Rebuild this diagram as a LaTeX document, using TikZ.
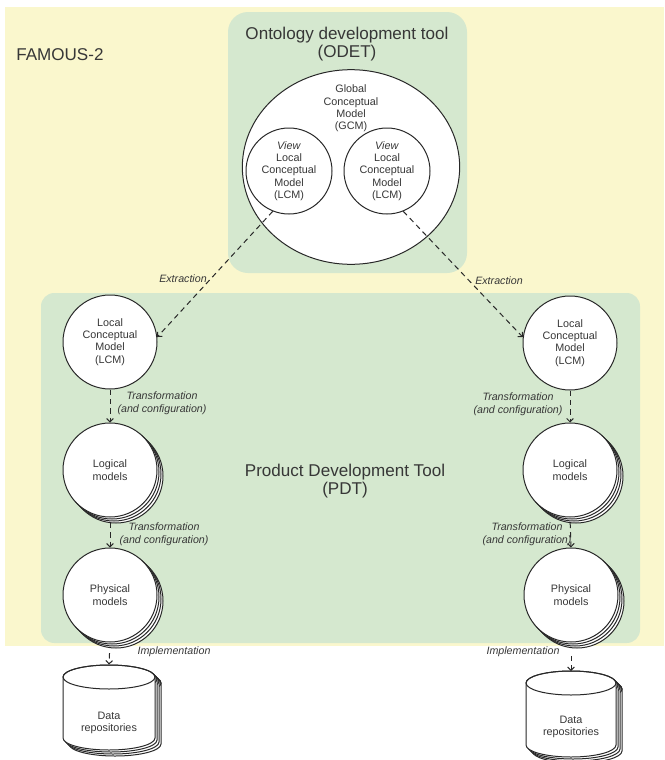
\documentclass[tikz,border=0pt]{standalone}
\usepackage{fontspec}
\setmainfont{Liberation Sans}
\usetikzlibrary{shapes.geometric,shadows,arrows.meta}

\definecolor{famousbg}{RGB}{250,247,205}
\definecolor{toolbg}{RGB}{213,232,207}
\definecolor{ink}{RGB}{40,40,40}
\definecolor{txt}{RGB}{55,55,55}

\tikzset{
  modelcircle/.style={circle, draw=ink, fill=white, line width=0.75pt,
    minimum size=70.5pt, inner sep=0pt, align=center, text=txt,
    font=\fontsize{8.1}{9.2}\selectfont},
  stacked/.style={
    copy shadow={shadow xshift=4.5pt, shadow yshift=-4.5pt, draw=ink, fill=white},
    copy shadow={shadow xshift=3pt, shadow yshift=-3pt, draw=ink, fill=white},
    copy shadow={shadow xshift=1.5pt, shadow yshift=-1.5pt, draw=ink, fill=white}},
  repoframe/.style={inner sep=0pt, minimum width=69pt, minimum height=64pt},
  repoline/.style={draw=ink, fill=white, line width=0.75pt},
  smalltext/.style={text=txt, align=center, inner sep=0pt,
    font=\fontsize{8.1}{9.2}\selectfont},
  flowlabel/.style={text=txt, align=center, inner sep=0pt,
    font=\fontsize{8}{9.5}\selectfont\itshape},
  titletext/.style={text=txt, align=center, inner sep=0pt,
    font=\fontsize{12.8}{13.5}\selectfont},
  flow/.style={draw=ink, line width=0.75pt, dash pattern=on 4pt off 3pt,
    -{Straight Barb[length=2.5pt,width=5pt]}},
}

% stacked data repository: centre x, top y, width, height, cap radius
\newcommand\reposhape[5]{%
  \foreach \o in {6,4,2,0} {
    \path[repoline, shift={(\o,\o)}]
      (#1-#3/2, #2+#5) -- (#1-#3/2, #2+#4-#5)
      arc[start angle=180, end angle=0, x radius=#3/2, y radius=#5]
      -- (#1+#3/2, #2+#5)
      arc[start angle=360, end angle=180, x radius=#3/2, y radius=#5] -- cycle;
    \draw[draw=ink, line width=0.75pt, shift={(\o,\o)}]
      (#1, #2+#5) ellipse[x radius=#3/2, y radius=#5];
  }}

\begin{document}
\begin{tikzpicture}[x=0.75pt,y=-0.75pt]
\useasboundingbox (0,0) rectangle (664,760);

% system area and the two tool areas
\fill[famousbg] (5,7) rectangle (664,646);
\fill[toolbg, rounded corners=15pt] (228,12) rectangle (467,273);
\fill[toolbg, rounded corners=10pt] (41,293) rectangle (640,643);

\node[titletext, anchor=west] (famous) at (16,55) {FAMOUS-2};
\node[titletext] (odet) at (347,44) {Ontology development tool\\(ODET)};
\node[titletext] (pdt) at (345,481) {Product Development Tool\\(PDT)};

% global model with its two views
\node[ellipse, draw=ink, fill=white, line width=0.75pt,
  minimum width=163pt, minimum height=146pt, inner sep=0pt] (gcm) at (351,167) {};
\node[smalltext] (gcmtext) at (351,108.5) {Global\\Conceptual\\Model\\(GCM)};
\node[modelcircle, minimum size=64.5pt] (viewL) at (289,171)
  {\textit{View}\\Local\\Conceptual\\Model\\(LCM)};
\node[modelcircle, minimum size=64.5pt] (viewR) at (387,171)
  {\textit{View}\\Local\\Conceptual\\Model\\(LCM)};

% left column
\node[modelcircle] (lcmL) at (110,342) {Local\\Conceptual\\Model\\(LCM)};
\node[modelcircle, stacked] (logL) at (110,470) {Logical\\models};
\node[modelcircle, stacked] (phyL) at (110,595) {Physical\\models};
\reposhape{109}{665}{92}{85}{12}
\node[repoframe] (dbL) at (109,707.5) {};
\node[smalltext] (dbLt) at (109,723) {Data\\repositories};

% right column
\node[modelcircle] (lcmR) at (570,343) {Local\\Conceptual\\Model\\(LCM)};
\node[modelcircle, stacked] (logR) at (570,470) {Logical\\models};
\node[modelcircle, stacked] (phyR) at (571,595) {Physical\\models};
\reposhape{571}{671}{90}{86}{12}
\node[repoframe] (dbR) at (571,714) {};
\node[smalltext] (dbRt) at (571,727) {Data\\repositories};

% extraction of local models
\draw[flow] (viewL.248) -- (lcmL.6);
\draw[flow] (viewR.292) -- (lcmR.173);
\node[flowlabel] (exL) at (183,279) {Extraction};
\node[flowlabel] (exR) at (499,281) {Extraction};

% transformations down each column
\draw[flow] (lcmL.south) -- (logL.north);
\draw[flow, shorten <=4pt] (logL.south) -- (phyL.north);
\draw[flow, shorten <=8pt] (phyL.south) -- (dbL.north);
\draw[flow] (lcmR.south) -- (logR.north);
\draw[flow, shorten <=4pt] (logR.south) -- (phyR.north);
\draw[flow, shorten <=10pt] (phyR.south) -- (dbR.north);

\node[flowlabel] (trL1) at (162,403) {Transformation\\(and configuration)};
\node[flowlabel] (trL2) at (164,534.5) {Transformation\\(and configuration)};
\node[flowlabel] (trR1) at (518,404) {Transformation\\(and configuration)};
\node[flowlabel] (trR2) at (527,534.5) {Transformation\\(and configuration)};
\node[flowlabel] (imL) at (174,652) {Implementation};
\node[flowlabel] (imR) at (523,652) {Implementation};
\end{tikzpicture}
\end{document}
